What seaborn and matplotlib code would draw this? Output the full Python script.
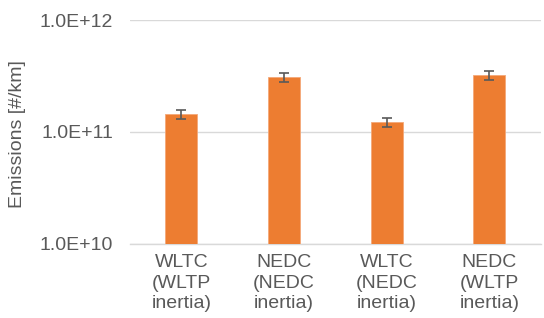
import matplotlib
matplotlib.use("Agg")
import matplotlib.pyplot as plt
import numpy as np
import pandas as pd
import seaborn as sns

categories = ["WLTC\n(WLTP\ninertia)", "NEDC\n(NEDC\ninertia)", "WLTC\n(NEDC\ninertia)", "NEDC\n(WLTP\ninertia)"]
emissions = [1.44e11, 3.08e11, 1.22e11, 3.21e11]
err = [1.3e10, 2.8e10, 1.1e10, 3.0e10]
y_ticks = [1e10, 1e11, 1e12]
y_tick_labels = ["1.0E+10", "1.0E+11", "1.0E+12"]

sns.set_style("white")
plt.rcParams["font.family"] = ["Liberation Sans", "DejaVu Sans"]

text_color = "#595959"
fs = 14
df = pd.DataFrame({"cat": categories, "val": emissions})

fig = plt.figure(figsize=(5.44, 3.18), dpi=100)
ax = fig.add_axes([0.239, 0.233, 0.755, 0.704])

sns.barplot(data=df, x="cat", y="val", color="#ED7D31", width=0.31,
            saturation=1, edgecolor="#F4A878", linewidth=0.6, ax=ax, zorder=3)
ax.errorbar(np.arange(len(categories)), emissions, yerr=err, fmt="none",
            ecolor=text_color, elinewidth=1.2, capsize=3.5, capthick=1.2, zorder=4)

ax.set_yscale("log")
ax.set_ylim(1e10, 1e12)
ax.set_yticks(y_ticks)
ax.set_yticklabels(y_tick_labels)
ax.minorticks_off()
ax.set_xlim(-0.5, len(categories) - 0.5)
ax.yaxis.grid(True, color="#D9D9D9", linewidth=1, zorder=0)
ax.set_axisbelow(True)

for s in ["top", "right", "left"]:
    ax.spines[s].set_visible(False)
ax.spines["bottom"].set_color("#D9D9D9")
ax.spines["bottom"].set_linewidth(1)

ax.tick_params(axis="both", length=0, labelsize=fs, colors=text_color)
ax.tick_params(axis="y", pad=12)
ax.tick_params(axis="x", pad=7)
ax.set_xlabel("")
ax.set_ylabel("")
fig.text(18 / 544, 0.578, "Emissions [#/km]", rotation=90, fontsize=fs,
         color=text_color, ha="center", va="center")
for t in ax.get_xticklabels():
    t.set_linespacing(1.3)

fig.savefig("out.png", dpi=100)
